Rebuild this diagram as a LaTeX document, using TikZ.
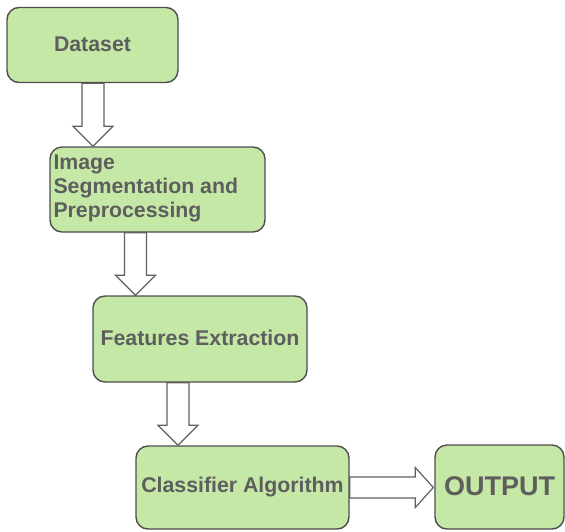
\documentclass[tikz,border=0pt]{standalone}
\usepackage{fontspec}
\setmainfont{Liberation Sans}
\usetikzlibrary{calc}
\definecolor{boxfill}{HTML}{C6E8A6}
\definecolor{boxline}{HTML}{4E4E4E}
\definecolor{txt}{HTML}{5E5E5E}
\tikzset{
  stepbox/.style={draw=boxline, fill=boxfill, line width=1.4pt, rounded corners=12pt,
    inner sep=0pt, font=\bfseries\fontsize{21.3}{24}\selectfont, text=txt},
  blockarrow/.style={draw=boxline!90, fill=white, line width=1.2pt, line join=miter},
}
\newcommand{\vblockarrow}[3]{%
  \draw[blockarrow] let \p1=(#2.south -| #1), \p2=(#3.north -| #1) in
    (\x1-11pt,\y1) -- (\x1+11pt,\y1) -- (\x1+11pt,\y2+20pt) -- (\x1+20pt,\y2+20pt)
    -- (\x2,\y2) -- (\x1-20pt,\y2+20pt) -- (\x1-11pt,\y2+20pt) -- cycle;}
\begin{document}
\begin{tikzpicture}[x=1pt,y=-1pt]
\useasboundingbox (0,0) rectangle (565,531);
\node[stepbox, minimum width=171pt, minimum height=75pt] (dataset) at (92.5,45) {\raisebox{1.5pt}{Dataset}};
\node[stepbox, minimum width=215pt, minimum height=85pt] (seg) at (157.5,189.5) {};
\node[anchor=north west, inner sep=0pt, align=left, text=txt,
  font=\bfseries\fontsize{21.3}{24}\selectfont] (segtext) at ($(seg.north west)+(4,8)$)
  {Image\\Segmentation and\\Preprocessing};
\node[stepbox, minimum width=214pt, minimum height=86pt] (feat) at (200,339) {\raisebox{2.5pt}{Features Extraction}};
\node[stepbox, minimum width=213pt, minimum height=83pt] (clf) at (242.5,487.5) {\raisebox{1.5pt}{Classifier Algorithm}};
\node[stepbox, minimum width=129pt, minimum height=84pt, font=\bfseries\fontsize{27}{30}\selectfont] (out) at (499.5,487) {\raisebox{2pt}{OUTPUT}};
\coordinate (xa) at (93,0);
\coordinate (xb) at (135.5,0);
\coordinate (xc) at (178,0);
\vblockarrow{xa}{dataset}{seg}
\vblockarrow{xb}{seg}{feat}
\vblockarrow{xc}{feat}{clf}
\draw[blockarrow] let \p1=(clf.east), \p2=(out.west) in
  (\x1,\y1+10.5pt) -- (\x2-19pt,\y1+10.5pt) -- (\x2-19pt,\y1+20pt) -- (\x2-1pt,\y1)
  -- (\x2-19pt,\y1-20pt) -- (\x2-19pt,\y1-10.5pt) -- (\x1,\y1-10.5pt) -- cycle;
\end{tikzpicture}
\end{document}
